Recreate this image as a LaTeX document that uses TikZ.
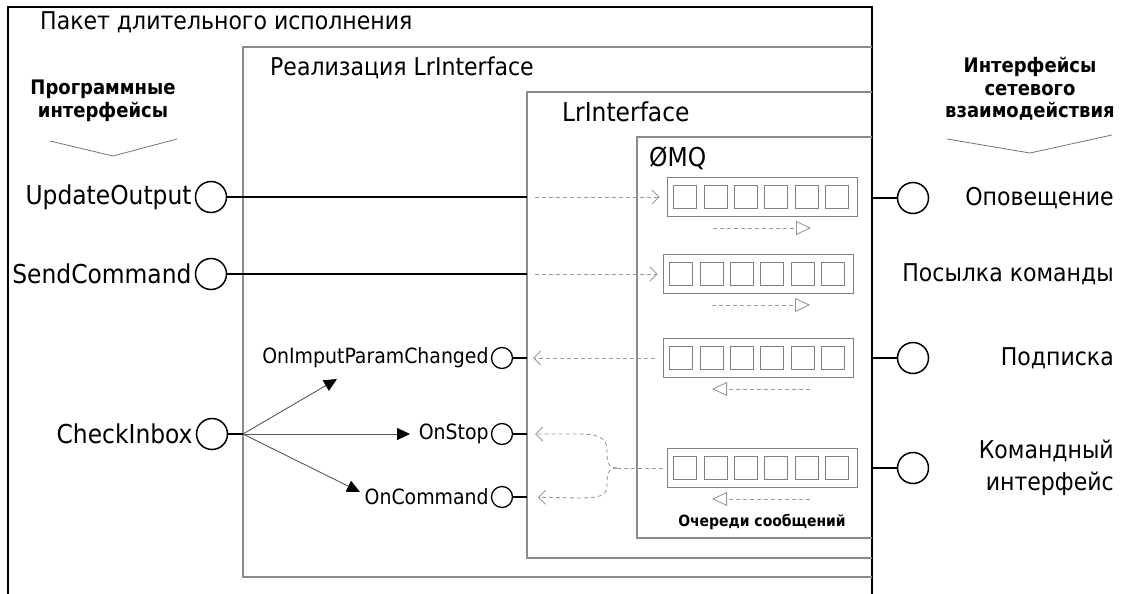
\documentclass[tikz,border=0pt]{standalone}
\usepackage{fontspec}
\setmainfont{DejaVu Sans Condensed}
\usetikzlibrary{arrows.meta,positioning}

\tikzset{
  frame/.style={draw=black!45,line width=1.1pt},
  outer/.style={draw=black,line width=1.5pt},
  lolly/.style={circle,draw,line width=1.5pt,minimum size=31pt,inner sep=0pt},
  lollysm/.style={lolly,line width=1.3pt,minimum size=21pt},
  wire/.style={line width=1.6pt},
  flow/.style={draw=black!40,line width=0.9pt,dash pattern=on 4pt off 3pt},
  flowarr/.style={flow,-{Straight Barb[length=7pt,width=14pt,line width=0.9pt]}},
  dirarr/.style={flow,-{Triangle[open,length=15pt,width=14pt,line width=0.9pt]}},
  fan/.style={draw=black!65,line width=0.9pt,-{Triangle[length=13pt,width=12pt,color=black]}},
  chev/.style={draw=black!55,line width=0.8pt},
  lbl/.style={inner sep=0pt,font=\fontsize{26}{28}\selectfont},
  lblru/.style={inner sep=0pt,font=\fontsize{24.5}{28}\selectfont},
  lblsm/.style={inner sep=0pt,font=\fontsize{21}{24}\selectfont},
  head/.style={inner sep=0pt,align=center,font=\bfseries\fontsize{20}{22.5}\selectfont},
  cell/.style={draw=black!50,line width=0.9pt},
  qbox/.style={draw=black!50,line width=0.9pt,minimum width=190pt,minimum height=39pt,inner sep=0pt},
}

% one message queue: frame plus six slots
\newcommand\msgqueue[3]{%
  \node[qbox] (#1) at (#2,#3) {};
  \foreach \k in {0,...,5}
    \draw[cell] ([xshift=7pt+30.4pt*\k,yshift=11.5pt]#1.west) rectangle ++(23pt,-23pt);
}

\begin{document}
\begin{tikzpicture}[x=1pt,y=-1pt]
  \useasboundingbox (0,0) rectangle (1124,594);
  \clip (0,0) rectangle (1124,594);

  % nested packages
  \draw[outer] (8,600) -- (8,7) -- (872,7) -- (872,600);
  \draw[frame] (872,47) -| (243,577) -- (872,577);
  \draw[frame] (872,92) -| (527,558) -- (872,558);
  \draw[frame] (872,137) -| (637,538) -- (872,538);

  \node[lblru,anchor=west] (pkg) at (40,22) {Пакет длительного исполнения};
  \node[lblru,anchor=west] (impl) at (270,68) {Реализация LrInterface};
  \node[lbl,anchor=west] (lri) at (562,112) {LrInterface};
  \node[lbl,anchor=west] (zmq) at (649,158) {ØMQ};

  % column headers
  \node[head] (apiH) at (103,101) {Программные\\интерфейсы};
  \draw[chev] (50,141) -- (113,156) -- (177,139);
  \node[head] (netH) at (1030,89) {Интерфейсы\\сетевого\\взаимодействия};
  \draw[chev] (947,139) -- (1030,153) -- (1112,135);

  % queues
  \msgqueue{q1}{762}{197}
  \msgqueue{q2}{758}{274}
  \msgqueue{q3}{758}{358}
  \msgqueue{q4}{762}{468}
  \draw[dirarr] ([xshift=-49pt,yshift=-11pt]q1.south) -- ([xshift=49pt,yshift=-11pt]q1.south);
  \draw[dirarr] ([xshift=-46pt,yshift=-11pt]q2.south) -- ([xshift=52pt,yshift=-11pt]q2.south);
  \draw[dirarr] ([xshift=52pt,yshift=-11pt]q3.south) -- ([xshift=-46pt,yshift=-11pt]q3.south);
  \draw[dirarr] ([xshift=48pt,yshift=-11pt]q4.south) -- ([xshift=-50pt,yshift=-11pt]q4.south);
  \node[inner sep=0pt,font=\bfseries\fontsize{15.5}{17}\selectfont] (qcap) at (762,522) {Очереди сообщений};

  % program interfaces
  \node[lolly] (uo) at (211,197) {};
  \node[lbl,left=3pt of uo] (uoL) {UpdateOutput};
  \node[lolly] (sc) at (211,274) {};
  \node[lbl,left=3pt of sc] (scL) {SendCommand};
  \node[lolly] (ci) at (212,434) {};
  \node[lbl,left=3pt of ci] (ciL) {CheckInbox};
  \coordinate (uoE) at (527,197);
  \coordinate (scE) at (527,274);
  \coordinate (ciE) at (243,434);
  \draw[wire] (uo) -- (uoE);
  \draw[wire] (sc) -- (scE);
  \draw[wire] (ci) -- (ciE);
  \draw[flowarr,shorten <=8pt,shorten >=7pt] (uoE) -- (q1.west);
  \draw[flowarr,shorten <=8pt,shorten >=5pt] (scE) -- (q2.west);

  % callbacks
  \node[lollysm] (ipc) at (502,358) {};
  \node[lblsm,left=2pt of ipc] (ipcL) {OnImputParamChanged};
  \node[lollysm] (stp) at (502,434) {};
  \node[lblsm,left=2pt of stp] (stpL) {OnStop};
  \node[lollysm] (cmd) at (502,497) {};
  \node[lblsm,left=2pt of cmd] (cmdL) {OnCommand};
  \coordinate (ipcE) at (527,358);
  \coordinate (stpE) at (527,434);
  \coordinate (cmdE) at (527,497);
  \draw[wire] (ipc) -- (ipcE);
  \draw[wire] (stp) -- (stpE);
  \draw[wire] (cmd) -- (cmdE);

  \coordinate (ipcT) at (337,379);
  \coordinate (stpT) at (410,434);
  \coordinate (cmdT) at (360,492);
  \draw[fan] (ciE) -- (ipcT);
  \draw[fan] (ciE) -- (stpT);
  \draw[fan] (ciE) -- (cmdT);

  \draw[flowarr,shorten <=8pt,shorten >=6pt] (q3.west) -- (ipcE);
  \coordinate (fork) at (617,468);
  \draw[flow] ([xshift=-4pt]q4.west) -- (fork);
  \draw[flowarr,shorten >=8pt] (fork) .. controls (607,468) and (607,460) .. (607,450)
    .. controls (607,437) and (597,434) .. (578,434) -- (stpE);
  \draw[flowarr,shorten >=11pt] (fork) .. controls (607,468) and (607,476) .. (607,486)
    .. controls (607,496) and (598,498) .. (580,498) -- (cmdE);

  % network interfaces
  \coordinate (ntE) at (872,198);
  \node[lolly] (nt) at (913,198) {};
  \draw[wire] (ntE) -- (nt);
  \node[lblru,anchor=east] (ntL) at (1114,198) {Оповещение};
  \node[lblru,anchor=east] (pcL) at (1114,274) {Посылка команды};
  \coordinate (subE) at (872,358);
  \node[lolly] (sub) at (913,358) {};
  \draw[wire] (subE) -- (sub);
  \node[lblru,anchor=east] (subL) at (1114,358) {Подписка};
  \coordinate (ciE2) at (872,468);
  \node[lolly] (cif) at (913,468) {};
  \draw[wire] (ciE2) -- (cif);
  \node[lblru,anchor=east,align=right,font=\fontsize{24.5}{32}\selectfont] (cifL) at (1114,468) {Командный\\интерфейс};
\end{tikzpicture}
\end{document}
